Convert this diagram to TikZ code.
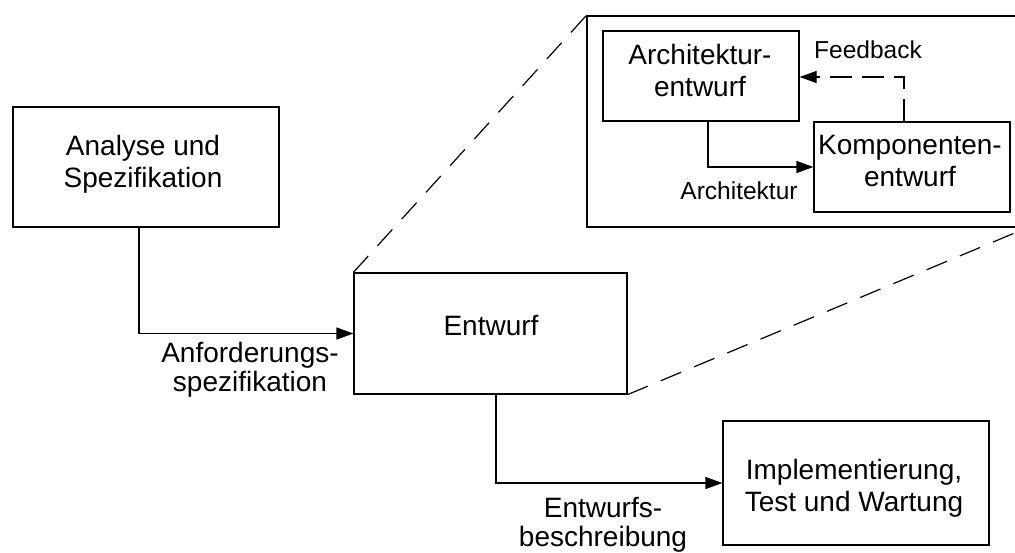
\documentclass[tikz,border=0pt]{standalone}
\usepackage{fontspec}
\setmainfont{Liberation Sans}
\usetikzlibrary{arrows.meta}
\begin{document}
\begin{tikzpicture}[x=1pt,y=-1pt,
  box/.style={draw, line width=1.2pt, inner sep=0pt},
  txt/.style={align=center, inner sep=0pt, font=\fontsize{28}{32}\selectfont},
  lbl/.style={align=center, inner sep=0pt, font=\fontsize{28}{29}\selectfont},
  slbl/.style={align=center, inner sep=0pt, font=\fontsize{24.5}{28}\selectfont},
  arr/.style={line width=1.2pt, -{Triangle[length=17pt,width=12pt]}},
  dsh/.style={line width=1.2pt, dash pattern=on 22pt off 14pt},
  line join=miter]
\clip (0,0) rectangle (1015,552);
\fill[white] (0,0) rectangle (1015,552);
% main boxes
\node[box, minimum width=266pt, minimum height=120pt] (ana) at (146,167) {};
\node[box, minimum width=273pt, minimum height=121pt] (ent) at (490.5,333.5) {};
\node[box, minimum width=266pt, minimum height=124pt] (impl) at (856,483) {};
% detail frame
\node[box, minimum width=440pt, minimum height=211pt] (outer) at (807,121.5) {};
\node[box, minimum width=196pt, minimum height=90pt] (arch) at (701,76) {};
\node[box, minimum width=196pt, minimum height=90pt] (komp) at (912,167) {};
% texts
\node[txt] (ana-t) at (143,163.8) {Analyse und\\Spezifikation};
\node[txt] (ent-t) at (491,326) {Entwurf};
\node[txt] (impl-t) at (854,488) {Implementierung,\\Test und Wartung};
\node[txt] (arch-t) at (700,70.6) {Architektur-\\entwurf};
\node[txt] (komp-t) at (910,161) {Komponenten-\\entwurf};
% connector bend points
\coordinate (c1) at (139,0);
\coordinate (c2) at (496,0);
\coordinate (c3) at (708,0);
\coordinate (c4) at (904,0);
\coordinate (fb) at (0,77);
% connectors
\draw[arr] (ana.south -| c1) |- (ent.west);
\draw[arr] (ent.south -| c2) |- (impl.west);
\draw[arr] (arch.south -| c3) |- (komp.west);
\draw[arr, dash pattern=on 22pt off 10pt] (komp.north -| c4) -- (c4 |- fb) -- (arch.east |- fb);
\draw[dsh] (ent.north west) -- (outer.north west);
\draw[dsh] (ent.south east) -- (outer.south east);
% labels
\node[lbl] (l1) at (250,370) {Anforderungs-\\spezifikation};
\node[lbl] (l2) at (603,525) {Entwurfs-\\beschreibung};
\node[slbl] (l3) at (739,191) {Architektur};
\node[slbl] (l4) at (868,49.6) {Feedback};
\end{tikzpicture}
\end{document}
